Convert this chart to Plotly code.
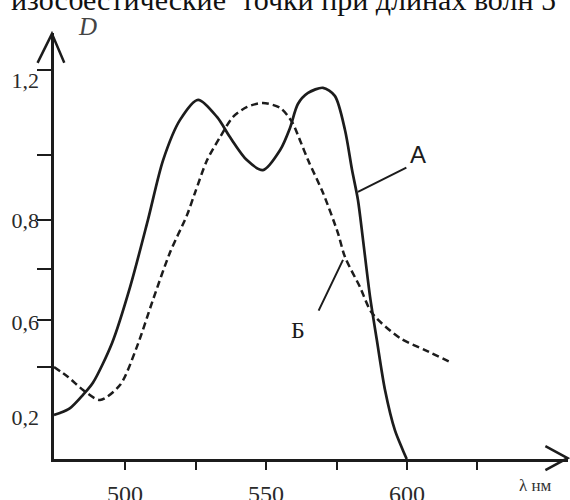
import plotly.graph_objects as go

# ---- data (wavelength, nm ; optical density on the figure's own D scale) ----
wl_A = [474.8, 476.9, 480.5, 485.1, 488.6, 495.4, 501.8, 508.1, 513.5, 519.5, 525.9,
        532.6, 537.2, 543.2, 548.9, 555.0, 558.5, 561.3, 564.9, 570.2, 574.4, 578.0,
        580.5, 582.6, 584.4, 586.9, 589.3, 592.2, 595.7, 598.5, 599.9]
D_A = [0.136, 0.142, 0.157, 0.198, 0.235, 0.358, 0.531, 0.737, 0.922, 1.046, 1.108,
       1.055, 0.993, 0.922, 0.891, 0.953, 1.021, 1.095, 1.129, 1.145, 1.120, 1.015,
       0.892, 0.799, 0.676, 0.500, 0.367, 0.213, 0.089, 0.028, 0.0]

wl_B = [474.8, 479.8, 485.1, 491.1, 498.2, 504.2, 509.9, 515.9, 522.0, 524.8, 529.1,
        533.7, 538.3, 543.3, 548.9, 555.0, 559.2, 562.0, 564.9, 570.2, 575.5, 578.0,
        583.3, 587.6, 597.5, 606.4, 616.0]
D_B = [0.284, 0.253, 0.213, 0.182, 0.228, 0.346, 0.491, 0.636, 0.753, 0.821, 0.922,
       0.993, 1.055, 1.086, 1.098, 1.083, 1.040, 0.984, 0.922, 0.821, 0.697, 0.623,
       0.531, 0.450, 0.373, 0.336, 0.296]

x_tick_vals = [500, 525, 550, 575, 600, 625]
x_tick_text = ["500", "", "550", "", "600", ""]
y_tick_vals = [1.200, 0.938, 0.737, 0.586, 0.429, 0.284]
y_label_vals = [1.169, 0.737, 0.423, 0.130]
y_label_text = ["1,2", "0,8", "0,6", "0,2"]

INK = "#1c1c1c"
X_RANGE = [474.8, 657.1]
Y_RANGE = [0, 1.314]

fig = go.Figure()
fig.add_trace(go.Scatter(x=wl_A, y=D_A, mode="lines",
                         line=dict(color=INK, width=2.7, shape="spline", smoothing=0.8),
                         showlegend=False, hoverinfo="skip", cliponaxis=False))
fig.add_trace(go.Scatter(x=wl_B, y=D_B, mode="lines",
                         line=dict(color=INK, width=2.5, dash="7px,4px", shape="spline", smoothing=0.8),
                         showlegend=False, hoverinfo="skip", cliponaxis=False))
# invisible trace to activate the label-only axis
fig.add_trace(go.Scatter(x=[X_RANGE[0]], y=[0], yaxis="y2", mode="markers",
                         marker=dict(opacity=0), showlegend=False, hoverinfo="skip"))

serif = "Liberation Serif"

fig.update_layout(
    width=570, height=500,
    margin=dict(l=54, r=2, t=33, b=41),
    paper_bgcolor="white", plot_bgcolor="white",
    xaxis=dict(range=X_RANGE, showgrid=False, zeroline=False,
               showline=True, linecolor=INK, linewidth=2.5,
               ticks="outside", ticklen=8, tickwidth=2, tickcolor=INK,
               tickvals=x_tick_vals, ticktext=x_tick_text,
               ticklabelstandoff=3, automargin=False,
               tickfont=dict(family=serif, size=24, color="#2a2a2a")),
    yaxis=dict(range=Y_RANGE, showgrid=False, zeroline=False,
               showline=True, linecolor=INK, linewidth=2.5,
               ticks="outside", ticklen=14, tickwidth=2, tickcolor=INK,
               tickvals=y_tick_vals, showticklabels=False, automargin=False),
    yaxis2=dict(range=Y_RANGE, overlaying="y", side="left", showgrid=False,
                zeroline=False, showline=False, ticks="",
                tickvals=y_label_vals, ticktext=y_label_text,
                ticklabelstandoff=14, automargin=False,
                tickfont=dict(family=serif, size=22, color="#2a2a2a")),
)

# axis arrowheads (open V)
fig.add_shape(type="path", xref="paper", yref="paper",
              path="M -0.032,0.93 L -0.004,0.998 L 0.020,0.93",
              line=dict(color=INK, width=2.5))
fig.add_shape(type="path", xref="paper", yref="paper",
              path="M 0.956,0.03 L 0.999,0.002 L 0.956,-0.026",
              line=dict(color=INK, width=2.5))

# leader lines for curve labels
fig.add_annotation(x=582.6, y=0.824, ax=600.3, ay=0.901, xref="x", yref="y",
                   axref="x", ayref="y", showarrow=True, arrowhead=0,
                   arrowwidth=2, arrowcolor=INK, text="")
fig.add_annotation(x=577.3, y=0.614, ax=568.4, ay=0.453, xref="x", yref="y",
                   axref="x", ayref="y", showarrow=True, arrowhead=0,
                   arrowwidth=2, arrowcolor=INK, text="")
fig.add_annotation(x=603.8, y=0.938, text="A", showarrow=False,
                   font=dict(family="Liberation Sans", size=24, color=INK))
fig.add_annotation(x=561.3, y=0.398, text="Б", showarrow=False,
                   font=dict(family=serif, size=24, color=INK))

# axis titles
fig.add_annotation(x=(87 - 54) / 514, y=(459 - 26) / 426, xref="paper", yref="paper",
                   xanchor="center", yanchor="middle",
                   text="<i>D</i>", showarrow=False,
                   font=dict(family=serif, size=25, color="#444"))
fig.add_annotation(x=(535 - 54) / 514, y=(459 - 486) / 426, xref="paper", yref="paper",
                   xanchor="center", yanchor="middle",
                   text="λ нм", showarrow=False,
                   font=dict(family=serif, size=17, color="#333"))

# cropped line of book text at the top
fig.add_annotation(x=(9 - 54) / 514, y=1.036, xref="paper", yref="paper",
                   xanchor="left", yanchor="bottom",
                   text="изосбестические\u00a0 точки при длинах волн 5",
                   showarrow=False,
                   font=dict(family=serif, size=30, color="#111"))

fig.write_html("out.html", config={"displayModeBar": False},
               post_script="document.body.style.margin='0';")
